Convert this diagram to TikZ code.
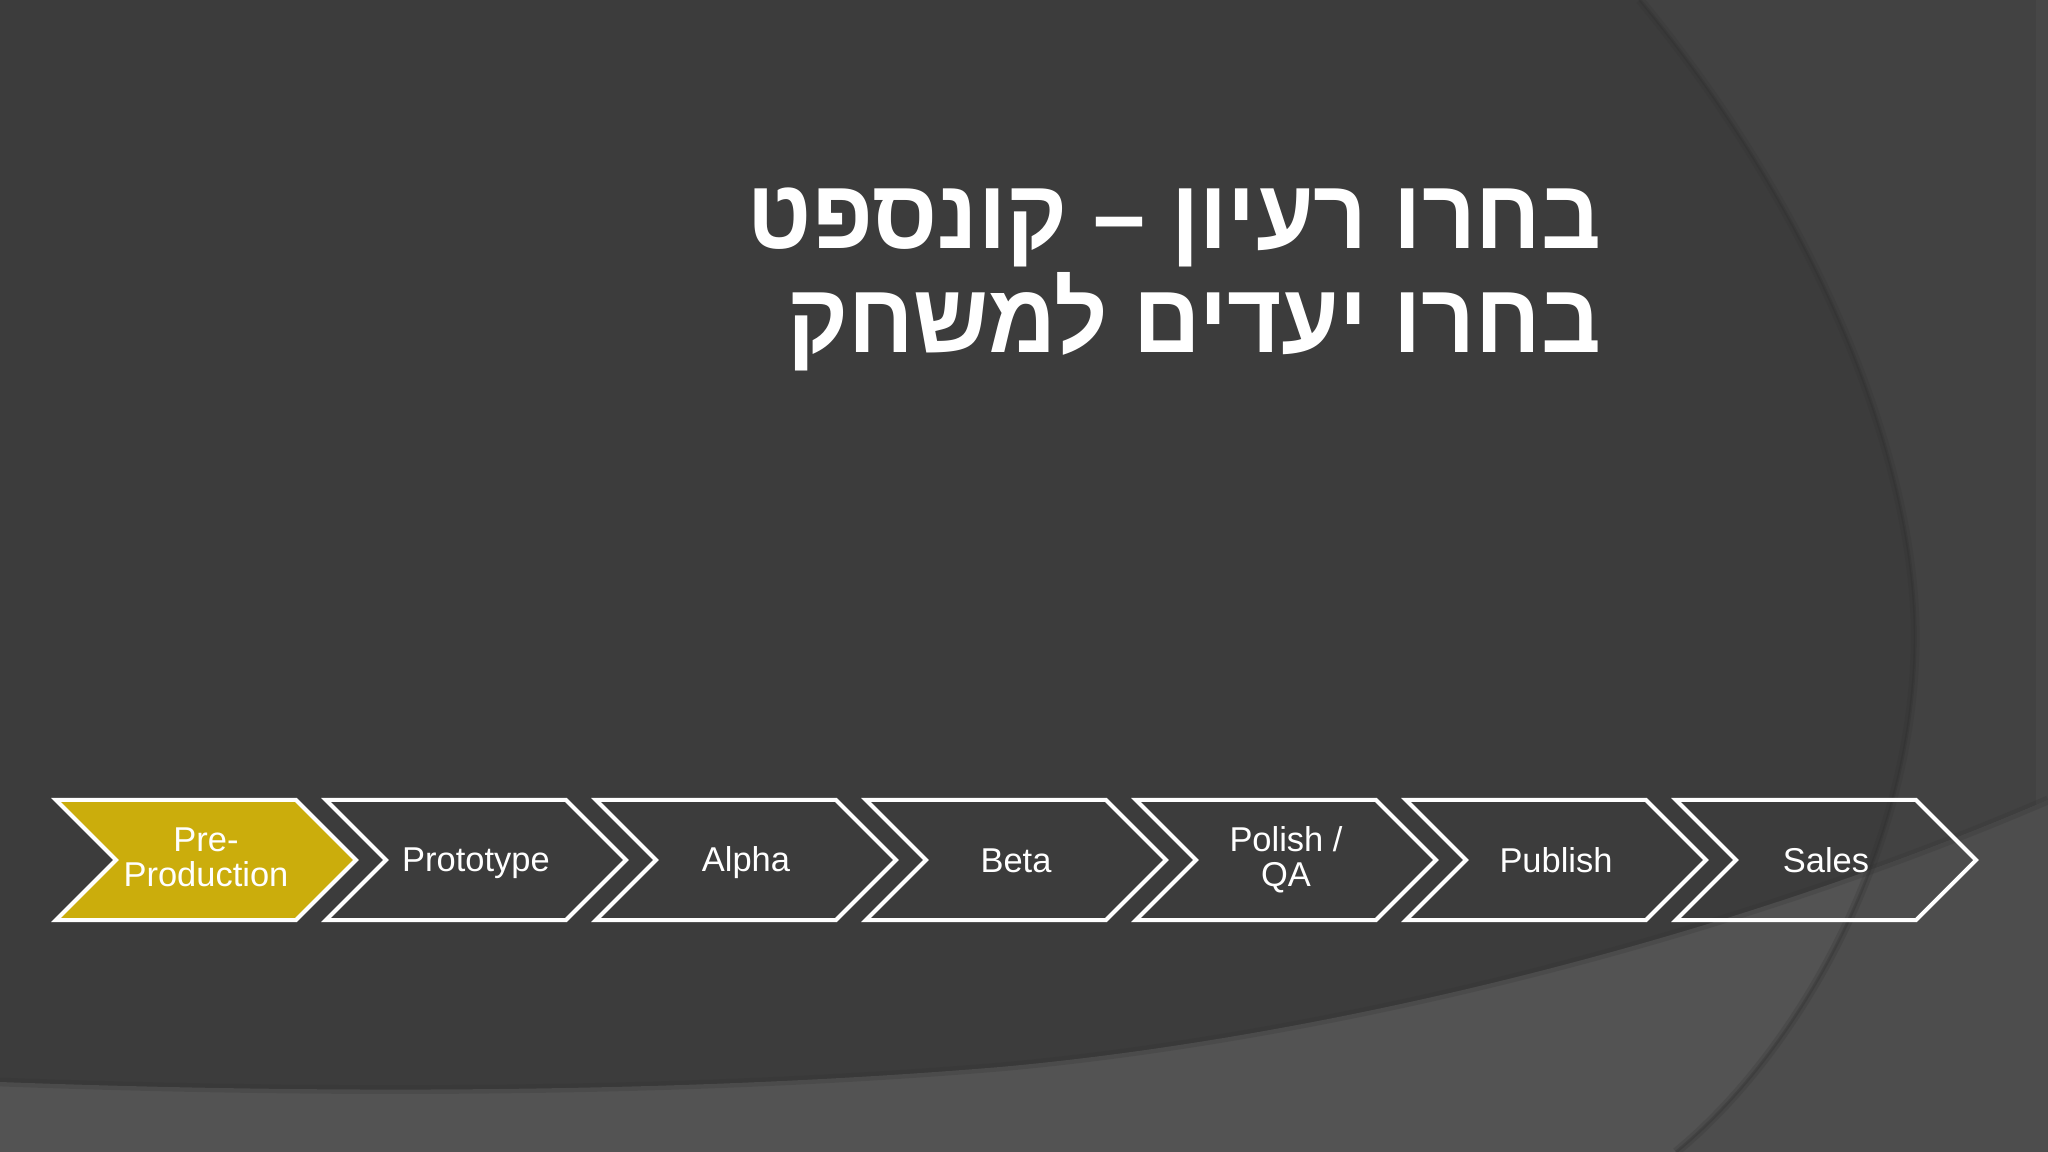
\documentclass[tikz,border=0pt]{standalone}
\usepackage{fontspec}
\setmainfont{Liberation Sans}
\newfontfamily\hebfont[Script=Hebrew,FakeStretch=0.95]{Liberation Sans}
\TeXXeTstate=1
\usetikzlibrary{positioning,shapes.symbols}
\definecolor{bgdark}{HTML}{3C3C3C}
\definecolor{bgright}{HTML}{424242}
\definecolor{bgband}{HTML}{535353}
\definecolor{bgbandright}{HTML}{4D4D4D}
\definecolor{bgedge}{HTML}{474747}
\definecolor{bgshade}{HTML}{2E2E2E}
\definecolor{stagegold}{RGB}{203,173,12}
\newcommand\rightzone{(1640,0) .. controls (1830,230) and (1920,480) .. (1915,650)
    .. controls (1910,850) and (1800,1050) .. (1676,1152)}
\newcommand\bandzone{(0,1082) .. controls (350,1095) and (700,1092) .. (1000,1067)
    .. controls (1300,1040) and (1700,950) .. (2048,800)}
\newcommand\stagestrut{\rule[-1.6pt]{0pt}{10.1pt}}
\tikzset{
  stagenode/.style={signal,signal to=east,signal from=west,draw=white,line width=1.15pt,
    minimum width=3cm,minimum height=1.2cm,inner sep=0pt,text=white,align=center,
    font=\fontsize{9.8}{10.1}\selectfont,
    execute at begin node=\stagestrut,execute at end node=\stagestrut},
  activenode/.style={stagenode,fill=stagegold},
  titlenode/.style={anchor=north east,text=white,align=right,inner sep=0pt,
    font=\hebfont\bfseries\fontsize{28}{29.6}\selectfont}
}

\begin{document}
\begin{tikzpicture}[x=0.01cm,y=-0.01cm]
  \useasboundingbox (0,0) rectangle (2048,1152);
  % background
  \fill[bgdark] (0,0) rectangle (2048,1152);
  \fill[bgright] \rightzone -- (2048,1152) -- (2048,0) -- cycle;
  \fill[bgedge] (2036,0) rectangle (2048,1152);
  \fill[bgband] \bandzone -- (2048,1152) -- (0,1152) -- cycle;
  \begin{scope}
    \clip \bandzone -- (2048,1152) -- (0,1152) -- cycle;
    \fill[bgbandright] \rightzone -- (2048,1152) -- (2048,0) -- cycle;
  \end{scope}
  \draw[bgshade,line width=2.5pt,opacity=0.2] \rightzone;
  \draw[bgshade,line width=0.8pt,opacity=0.3] \rightzone;
  \draw[bgshade,line width=2.5pt,opacity=0.2] \bandzone;

  \node[titlenode] (title) at (1602,187)
    {\beginR בחרו רעיון – קונספט\endR\\\beginR בחרו יעדים למשחק\endR};

  % stages
  \node[activenode] (s1) at (206,860) {Pre-\\Production};
  \foreach \lab [count=\i from 2] in {Prototype,Alpha,Beta,{Polish /\\QA},Publish,Sales}
    \node[stagenode] (s\i) at (206+\i*270-270,860) {\lab};
\end{tikzpicture}
\end{document}
